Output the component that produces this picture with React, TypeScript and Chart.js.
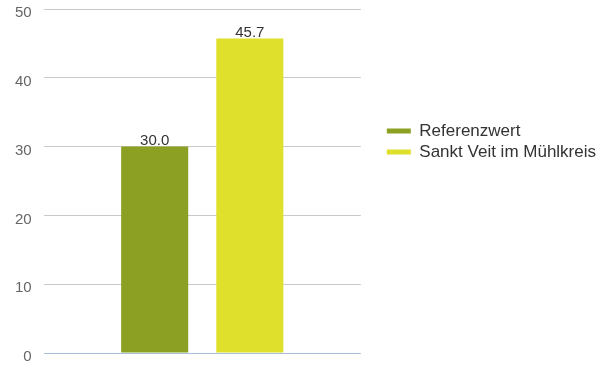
import React, { useEffect, useRef } from "react";
import { Chart, registerables } from "chart.js";

Chart.register(...registerables);

const categories: string[] = [""];
const seriesNames: string[] = ["Referenzwert", "Sankt Veit im Mühlkreis"];
const referenzValues: number[] = [30.0];
const sanktVeitValues: number[] = [45.7];
const seriesColors: string[] = ["#8ca123", "#dee02b"];
const yTicks: number[] = [0, 10, 20, 30, 40, 50];

const FONT = "'Liberation Sans', Arial, Helvetica, sans-serif";

const valueLabelPlugin = {
  id: "valueLabels",
  afterDatasetsDraw(chart: any) {
    const { ctx } = chart;
    ctx.save();
    ctx.font = `15px ${FONT}`;
    ctx.fillStyle = "#333333";
    ctx.textAlign = "center";
    ctx.textBaseline = "alphabetic";
    chart.data.datasets.forEach((ds: any, i: number) => {
      const meta = chart.getDatasetMeta(i);
      meta.data.forEach((bar: any, j: number) => {
        const v = ds.data[j] as number;
        ctx.fillText(v.toFixed(1), bar.x, bar.y - 2);
      });
    });
    ctx.restore();
  },
};

export default function App() {
  const canvasRef = useRef<HTMLCanvasElement | null>(null);

  useEffect(() => {
    if (!canvasRef.current) return;
    const chart = new Chart(canvasRef.current, {
      type: "bar",
      data: {
        labels: categories,
        datasets: [
          {
            label: seriesNames[0],
            data: referenzValues,
            backgroundColor: seriesColors[0],
            borderWidth: 0,
            categoryPercentage: 0.6,
            barPercentage: 0.705,
          },
          {
            label: seriesNames[1],
            data: sanktVeitValues,
            backgroundColor: seriesColors[1],
            borderWidth: 0,
            categoryPercentage: 0.6,
            barPercentage: 0.705,
          },
        ],
      },
      options: {
        animation: false,
        responsive: true,
        maintainAspectRatio: false,
        layout: { padding: { left: 3, right: 6, top: 9, bottom: 12 } },
        scales: {
          x: { display: false },
          y: {
            min: yTicks[0],
            max: yTicks[yTicks.length - 1],
            afterBuildTicks: (scale: any) => {
              scale.ticks = yTicks.map((v) => ({ value: v }));
            },
            afterFit: (scale: any) => {
              scale.paddingTop = 0;
              scale.paddingBottom = 0;
            },
            border: { display: false },
            grid: {
              drawTicks: false,
              lineWidth: 1,
              color: (ctx: any) =>
                ctx.tick && ctx.tick.value === 0 ? "#a9bfd9" : "#c9c9c9",
            },
            ticks: {
              padding: 12,
              labelOffset: 4,
              color: "#666666",
              font: { family: FONT, size: 15 },
            },
          },
          yR: {
            type: "linear",
            position: "right",
            display: true,
            grid: { display: false },
            border: { display: false },
            ticks: { display: false },
            afterFit: (scale: any) => {
              scale.width = 22;
              scale.paddingTop = 0;
              scale.paddingBottom = 0;
            },
          },
        },
        plugins: {
          tooltip: { enabled: false },
          legend: {
            position: "right",
            align: "start",
            maxWidth: 320,
            title: { display: true, text: "", padding: { top: 95, bottom: 0 } },
            labels: {
              boxWidth: 24,
              boxHeight: 5,
              padding: 4,
              color: "#333333",
              font: { family: FONT, size: 17 },
            },
          },
        },
      },
      plugins: [valueLabelPlugin],
    });
    return () => chart.destroy();
  }, []);

  return (
    <div style={{ position: "absolute", left: 0, top: 0, width: 612, height: 365 }}>
      <canvas ref={canvasRef} />
    </div>
  );
}
